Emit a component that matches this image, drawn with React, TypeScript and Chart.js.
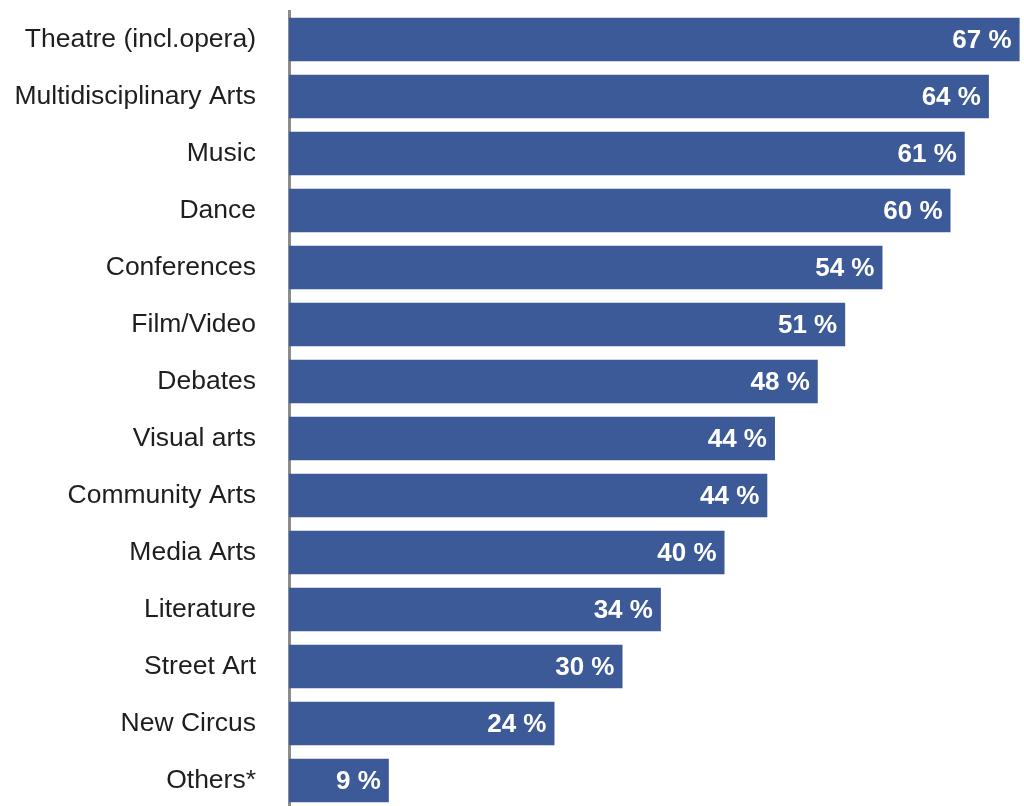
import React, { useEffect, useRef } from "react";
import { Chart, registerables } from "chart.js";

Chart.register(...registerables);

const categories: string[] = [
  "Theatre (incl.opera)",
  "Multidisciplinary Arts",
  "Music",
  "Dance",
  "Conferences",
  "Film/Video",
  "Debates",
  "Visual arts",
  "Community Arts",
  "Media Arts",
  "Literature",
  "Street Art",
  "New Circus",
  "Others*",
];

const values: number[] = [66.6, 63.8, 61.6, 60.3, 54.1, 50.7, 48.2, 44.3, 43.6, 39.7, 33.9, 30.4, 24.2, 9.1];

const valueLabels: string[] = [
  "67 %", "64 %", "61 %", "60 %", "54 %", "51 %", "48 %", "44 %", "44 %", "40 %", "34 %", "30 %", "24 %", "9 %",
];

const BAR_COLOR = "#3d5a98";
const FONT = "'Liberation Sans', Arial, sans-serif";

const valueLabelPlugin = {
  id: "valueLabels",
  afterDatasetsDraw(chart: any) {
    const ctx = chart.ctx;
    const meta = chart.getDatasetMeta(0);
    ctx.save();
    ctx.fillStyle = "#ffffff";
    ctx.font = `bold 26px ${FONT}`;
    ctx.textAlign = "right";
    ctx.textBaseline = "middle";
    meta.data.forEach((bar: any, i: number) => {
      ctx.fillText(valueLabels[i], bar.x - 8, bar.y + 1);
    });
    ctx.restore();
  },
};

export default function App() {
  const ref = useRef<HTMLCanvasElement>(null);

  useEffect(() => {
    if (!ref.current) return;
    const chart = new Chart(ref.current, {
      type: "bar",
      data: {
        labels: categories,
        datasets: [
          {
            data: values,
            backgroundColor: BAR_COLOR,
            borderWidth: 0,
            barPercentage: 0.765,
            categoryPercentage: 1,
          },
        ],
      },
      options: {
        indexAxis: "y",
        animation: false,
        responsive: false,
        maintainAspectRatio: false,
        layout: { padding: { top: 11, bottom: 0, left: 0, right: 0 } },
        plugins: {
          legend: { display: false },
          tooltip: { enabled: false },
          title: { display: false },
        },
        scales: {
          x: {
            display: false,
            min: 0,
            max: 67,
          },
          y: {
            z: 1,
            grid: { display: false, drawTicks: false },
            border: { display: true, color: "#8c8c8c", width: 3 },
            ticks: {
              color: "#1e1e1e",
              font: { family: FONT, size: 26.5 },
              padding: 33,
            },
            afterFit: (scale: any) => {
              scale.width = 289;
              scale.paddingTop = 0;
              scale.paddingBottom = 0;
            },
          },
        },
      },
      plugins: [valueLabelPlugin],
    });
    return () => chart.destroy();
  }, []);

  return (
    <div style={{ position: "absolute", left: 0, top: 0, width: 1024, height: 806, overflow: "hidden", background: "#fff" }}>
      <canvas ref={ref} width={1024} height={809} style={{ display: "block" }} />
    </div>
  );
}
